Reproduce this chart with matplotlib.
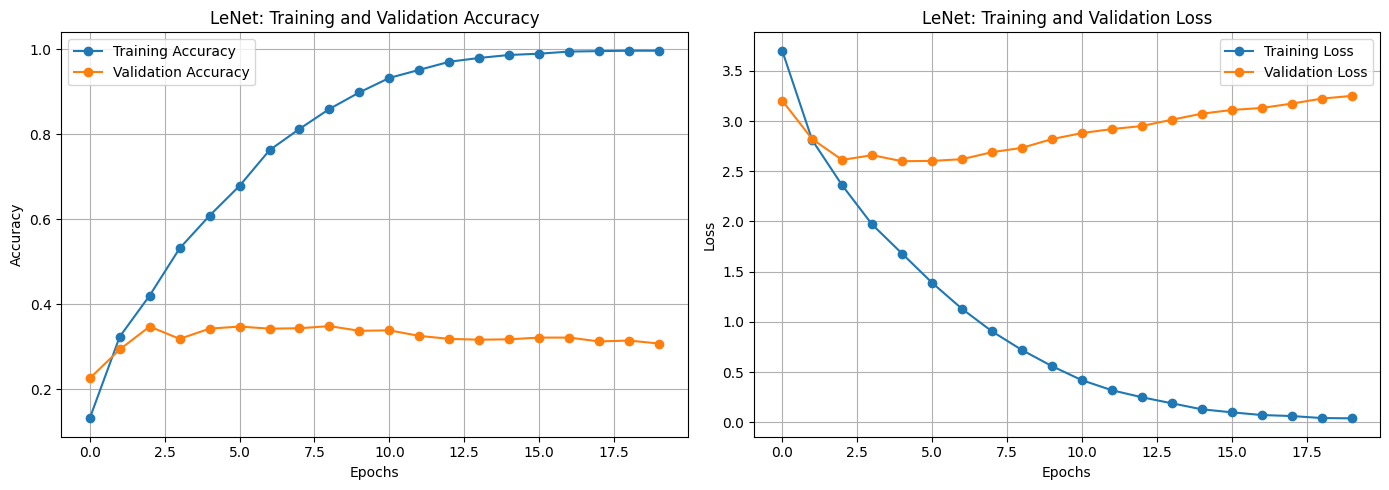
import matplotlib
matplotlib.use('Agg')
import matplotlib.pyplot as plt

# valores (20 epocas)
epochs = list(range(20))
train_acc = [0.132, 0.324, 0.421, 0.532, 0.609, 0.679, 0.763, 0.813, 0.860, 0.899,
             0.933, 0.952, 0.971, 0.980, 0.987, 0.990, 0.995, 0.996, 0.997, 0.997]
val_acc = [0.226, 0.294, 0.348, 0.319, 0.343, 0.348, 0.343, 0.344, 0.349, 0.338,
           0.339, 0.326, 0.319, 0.317, 0.318, 0.322, 0.322, 0.313, 0.315, 0.308]
train_loss = [3.70, 2.81, 2.36, 1.97, 1.68, 1.39, 1.13, 0.906, 0.72, 0.56,
              0.42, 0.32, 0.25, 0.19, 0.13, 0.10, 0.073, 0.063, 0.043, 0.04]
val_loss = [3.203, 2.82, 2.613, 2.66, 2.60, 2.603, 2.62, 2.69, 2.733, 2.82,
            2.88, 2.92, 2.95, 3.013, 3.073, 3.11, 3.13, 3.173, 3.223, 3.25]

fig = plt.figure(figsize=(14, 5), dpi=100)

plt.subplot(1, 2, 1)
plt.plot(epochs, train_acc, marker='o', label='Training Accuracy')
plt.plot(epochs, val_acc, marker='o', label='Validation Accuracy')
plt.title('LeNet: Training and Validation Accuracy')
plt.xlabel('Epochs')
plt.ylabel('Accuracy')
plt.legend()
plt.grid(True)

plt.subplot(1, 2, 2)
plt.plot(epochs, train_loss, marker='o', label='Training Loss')
plt.plot(epochs, val_loss, marker='o', label='Validation Loss')
plt.title('LeNet: Training and Validation Loss')
plt.xlabel('Epochs')
plt.ylabel('Loss')
plt.legend()
plt.grid(True)

plt.tight_layout()
plt.savefig('out.png', dpi=100, bbox_inches='tight')
